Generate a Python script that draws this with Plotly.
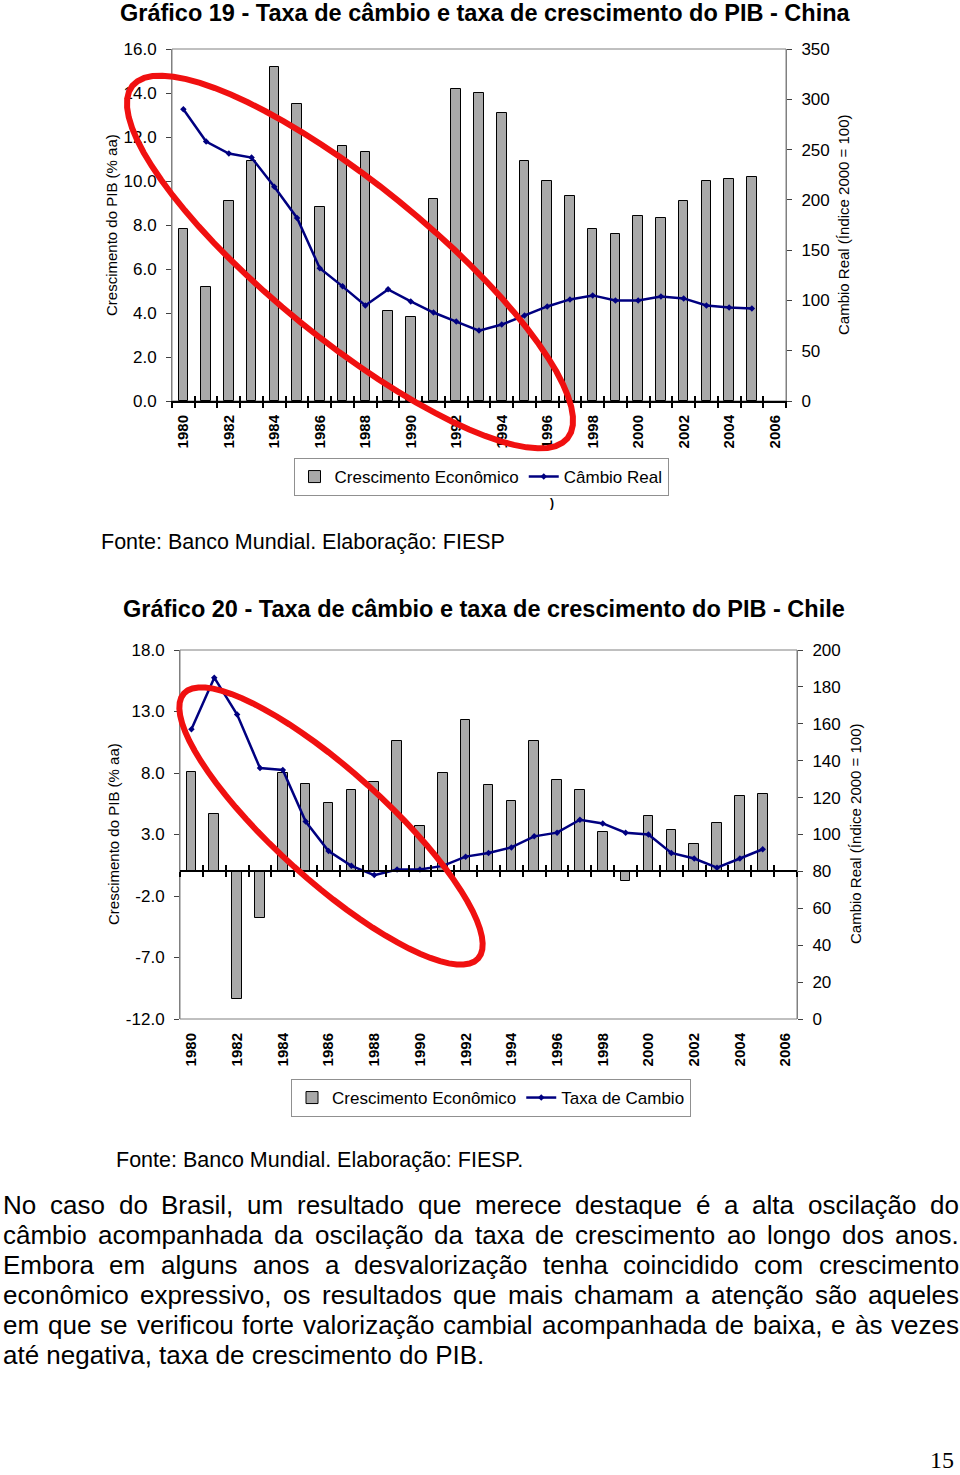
import math
import plotly.graph_objects as go

# ---- dados ----
anos = list(range(1980, 2006))
anos_rotulos = list(range(1980, 2007, 2))

china_pib = [7.8, 5.2, 9.1, 10.9, 15.2, 13.5, 8.8, 11.6, 11.3, 4.1, 3.8, 9.2, 14.2,
             14.0, 13.1, 10.9, 10.0, 9.3, 7.8, 7.6, 8.4, 8.3, 9.1, 10.0, 10.1, 10.2]
china_cambio = [290, 258, 246, 242, 213, 182, 132, 114, 95, 111, 99, 88, 79,
                70, 76, 85, 94, 101, 105, 100, 100, 104, 102, 95, 93, 92]

chile_pib = [8.1, 4.7, -10.4, -3.8, 8.0, 7.1, 5.6, 6.6, 7.3, 10.6, 3.7, 8.0, 12.3,
             7.0, 5.7, 10.6, 7.4, 6.6, 3.2, -0.8, 4.5, 3.4, 2.2, 3.9, 6.1, 6.3]
chile_cambio = [157, 185, 165, 136, 135, 107, 91, 83, 78, 81, 81, 83, 88,
                90, 93, 99, 101, 108, 106, 101, 100, 90, 87, 82, 87, 92]

chile_pib_ticks = [-12, -7, -2, 3, 8, 13, 18]

paragrafo = [
    "No caso do Brasil, um resultado que merece destaque é a alta oscilação do",
    "câmbio acompanhada da oscilação da taxa de crescimento ao longo dos anos.",
    "Embora em alguns anos a desvalorização tenha coincidido com crescimento",
    "econômico expressivo, os resultados que mais chamam a atenção são aqueles",
    "em que se verificou forte valorização cambial acompanhada de baixa, e às vezes",
    "até negativa, taxa de crescimento do PIB.",
]

W, H = 960, 1475
FONTE = "Liberation Sans, Arial, sans-serif"
CINZA = "#a9a9a9"
AZUL = "#000080"
VERMELHO = "#f01010"


def fx(x):
    return x / W


def fy(y):
    return 1 - y / H


# larguras Arial (1/1000 em) para justificar o texto
LARG = {" ": 278, "a": 556, "b": 556, "c": 500, "d": 556, "e": 556, "f": 278, "g": 556,
        "h": 556, "i": 222, "j": 222, "k": 500, "l": 222, "m": 833, "n": 556, "o": 556,
        "p": 556, "q": 556, "r": 333, "s": 500, "t": 278, "u": 556, "v": 500, "w": 722,
        "x": 500, "y": 500, "z": 500, "á": 556, "à": 556, "â": 556, "ã": 556, "é": 556,
        "ê": 556, "í": 278, "ó": 556, "ô": 556, "õ": 556, "ú": 556, "ç": 500,
        "B": 667, "E": 667, "I": 278, "N": 722, "P": 667, ",": 278, ".": 278}


def largura(txt, tam):
    return sum(LARG.get(c, 556) for c in txt) * tam / 1000


china_x = [172, 786]
china_y = [49, 401]
chile_x = [180, 797]
chile_y = [650, 1019]

fig = go.Figure()

# ---- Gráfico 19 - China ----
fig.add_trace(go.Bar(x=anos, y=china_pib, name="Crescimento Econômico", width=0.42,
                     marker=dict(color=CINZA, line=dict(color="black", width=1)),
                     xaxis="x", yaxis="y", legend="legend"))
fig.add_trace(go.Scatter(x=anos, y=china_cambio, name="Câmbio Real", mode="lines+markers",
                         line=dict(color=AZUL, width=2.5),
                         marker=dict(symbol="diamond", size=5, color=AZUL),
                         xaxis="x", yaxis="y2", legend="legend"))

# ---- Gráfico 20 - Chile ----
fig.add_trace(go.Bar(x=anos, y=chile_pib, name="Crescimento Econômico", width=0.42,
                     marker=dict(color=CINZA, line=dict(color="black", width=1)),
                     xaxis="x2", yaxis="y3", legend="legend2"))
fig.add_trace(go.Scatter(x=anos, y=chile_cambio, name="Taxa de Cambio", mode="lines+markers",
                         line=dict(color=AZUL, width=2.5),
                         marker=dict(symbol="diamond", size=5, color=AZUL),
                         xaxis="x2", yaxis="y4", legend="legend2"))

# eixos auxiliares só para os traços de marcação entre categorias
for xa, ya in [("x3", "y"), ("x4", "y"), ("x5", "y3"), ("x6", "y3")]:
    fig.add_trace(go.Scatter(x=[None], y=[None], xaxis=xa, yaxis=ya, showlegend=False,
                             hoverinfo="skip"))

faixa = [1979.5, 2006.5]
eixo_rot = dict(range=faixa, tickmode="array", tickvals=anos_rotulos,
                ticktext=[str(a) for a in anos_rotulos], tickangle=-90,
                tickfont=dict(family=FONTE, size=15, color="black", weight="bold"),
                ticks="", showline=False, showgrid=False, zeroline=False,
                ticklabelstandoff=10, automargin=False)
eixo_marca = dict(range=faixa, tickmode="linear", tick0=1979.5, dtick=1,
                  showticklabels=False, showline=True, linecolor="black", linewidth=2,
                  tickcolor="black", tickwidth=2, ticklen=5, showgrid=False, zeroline=False,
                  automargin=False)
eixo_y = dict(showline=True, linecolor="#808080", linewidth=1, ticks="outside", ticklen=5,
              tickcolor="#404040", showgrid=False, zeroline=False, automargin=False,
              tickfont=dict(family=FONTE, size=17, color="black"), ticklabelstandoff=6)

# posição do zero no gráfico do Chile (eixo de -12 a 18)
chile_y0, chile_y1 = fy(chile_y[1]), fy(chile_y[0])
zero_chile = chile_y0 + (0 - (-12)) / 30 * (chile_y1 - chile_y0)

fig.update_layout(
    template="none",
    width=W, height=H, autosize=False,
    margin=dict(l=0, r=0, t=0, b=0, pad=0),
    paper_bgcolor="white", plot_bgcolor="rgba(0,0,0,0)",
    bargap=0,
    xaxis=dict(domain=[fx(china_x[0]), fx(china_x[1])], anchor="y", **eixo_rot),
    xaxis3=dict(overlaying="x", anchor="y", ticks="outside", **eixo_marca),
    xaxis4=dict(overlaying="x", anchor="y", ticks="inside", **eixo_marca),
    yaxis=dict(domain=[fy(china_y[1]), fy(china_y[0])], anchor="x", range=[0, 16],
               tick0=0, dtick=2, tickformat=".1f", **eixo_y),
    yaxis2=dict(overlaying="y", side="right", anchor="x", range=[0, 350],
                tick0=0, dtick=50, **eixo_y),
    xaxis2=dict(domain=[fx(chile_x[0]), fx(chile_x[1])], anchor="y3", **eixo_rot),
    xaxis5=dict(overlaying="x2", anchor="free", position=zero_chile, ticks="outside",
                **eixo_marca),
    xaxis6=dict(overlaying="x2", anchor="free", position=zero_chile, ticks="inside",
                **eixo_marca),
    yaxis3=dict(domain=[chile_y0, chile_y1], anchor="x2", range=[-12, 18],
                tickmode="array", tickvals=chile_pib_ticks,
                ticktext=[f"{v:.1f}" for v in chile_pib_ticks], **eixo_y),
    yaxis4=dict(overlaying="y3", side="right", anchor="x2", range=[0, 200],
                tick0=0, dtick=20, **eixo_y),
    legend=dict(orientation="h", x=fx(481), xanchor="center", y=fy(458), yanchor="top",
                bordercolor="#909090", borderwidth=1, bgcolor="white",
                font=dict(family=FONTE, size=17, color="black"), itemwidth=30,
                tracegroupgap=0),
    legend2=dict(orientation="h", x=fx(491), xanchor="center", y=fy(1079), yanchor="top",
                 bordercolor="#909090", borderwidth=1, bgcolor="white",
                 font=dict(family=FONTE, size=17, color="black"), itemwidth=30,
                 tracegroupgap=0),
    showlegend=True,
)

# moldura cinza das áreas de plotagem
for xr, yr in [("x domain", "y domain"), ("x2 domain", "y3 domain")]:
    fig.add_shape(type="rect", xref=xr, yref=yr, x0=0, x1=1, y0=0, y1=1,
                  line=dict(color="#808080", width=1), layer="below")


# elipses vermelhas de destaque
def elipse(cx, cy, a, b, ang):
    t = math.radians(ang)
    pts = []
    for k in range(73):
        s = 2 * math.pi * k / 72
        px = cx + a * math.cos(s) * math.cos(t) - b * math.sin(s) * math.sin(t)
        py = cy + a * math.cos(s) * math.sin(t) + b * math.sin(s) * math.cos(t)
        pts.append((fx(px), fy(py)))
    return "M " + " L ".join(f"{p[0]:.5f},{p[1]:.5f}" for p in pts) + " Z"


fig.add_shape(type="path", xref="paper", yref="paper", path=elipse(350, 262, 280, 78, 39),
              line=dict(color=VERMELHO, width=6))
fig.add_shape(type="path", xref="paper", yref="paper", path=elipse(331, 826, 198, 55, 42),
              line=dict(color=VERMELHO, width=6))


def texto(x, y, s, tam, xanchor="left", bold=False, ang=0, familia=FONTE):
    fig.add_annotation(x=fx(x), y=fy(y), xref="paper", yref="paper", text=s,
                       showarrow=False, xanchor=xanchor, yanchor="middle", textangle=ang,
                       borderpad=0,
                       font=dict(family=familia, size=tam, color="black",
                                 weight="bold" if bold else "normal"))


texto(485, 13, "Gráfico 19 - Taxa de câmbio e taxa de crescimento do PIB - China", 23.5,
      xanchor="center", bold=True)
texto(111, 225, "Crescimento do PIB (% aa)", 15, xanchor="center", ang=-90)
texto(843, 225, "Cambio Real (Índice 2000 = 100)", 15, xanchor="center", ang=-90)
texto(552, 503, ")", 12, xanchor="center", bold=True)
texto(100, 542, "Fonte: Banco Mundial. Elaboração: FIESP", 21.5)

texto(484, 609, "Gráfico 20 - Taxa de câmbio e taxa de crescimento do PIB - Chile", 23.5,
      xanchor="center", bold=True)
texto(113, 834, "Crescimento do PIB (% aa)", 15, xanchor="center", ang=-90)
texto(855, 834, "Cambio Real (Índice 2000 = 100)", 15, xanchor="center", ang=-90)
texto(115, 1160, "Fonte: Banco Mundial. Elaboração: FIESP.", 21.5)

# parágrafo justificado
TAM = 26
esq, dir_ = 2, 958
for i, linha in enumerate(paragrafo):
    yl = 1205 + 30 * i
    palavras = linha.split(" ")
    if i == len(paragrafo) - 1:
        texto(esq, yl, linha, TAM)
        continue
    total = sum(largura(p, TAM) for p in palavras)
    gap = (dir_ - esq - total) / (len(palavras) - 1)
    pos = esq
    for p in palavras:
        texto(pos, yl, p, TAM)
        pos += largura(p, TAM) + gap

texto(955, 1460, "15", 24, xanchor="right", familia="Liberation Serif, Times New Roman, serif")

fig.write_html("out.html", config={"displayModeBar": False},
               post_script="document.body.style.margin='0px';")
